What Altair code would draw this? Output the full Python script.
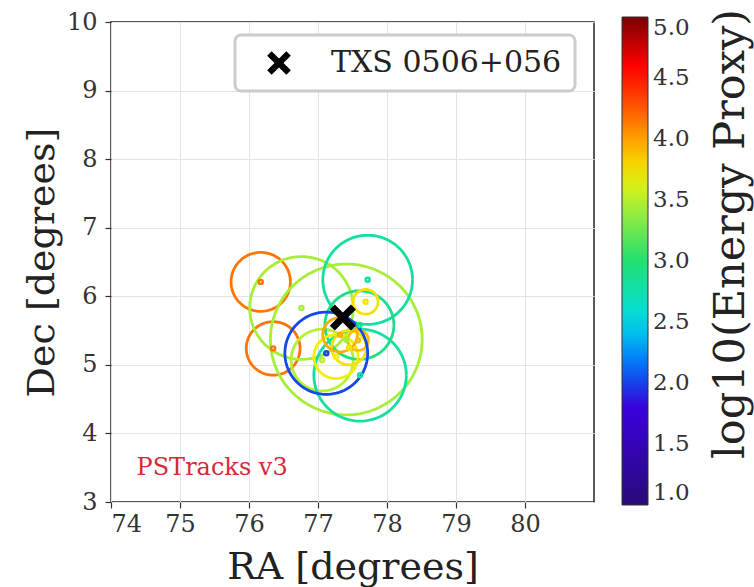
import numpy as np
import pandas as pd
import altair as alt

# --- event data ---
ev_ra  = [76.17, 76.35, 76.76, 77.41, 77.06, 77.72, 77.61, 77.60, 77.26, 77.45, 77.32, 77.58, 77.69, 77.12]
ev_dec = [6.21,  5.24,  5.83,  5.37,  5.07,  6.24,  4.85,  5.58,  5.12,  5.25,  5.44,  5.36,  5.92,  5.17]
ev_err = [0.43,  0.39,  0.75,  1.10,  0.45,  0.65,  0.67,  0.50,  0.32,  0.25,  0.25,  0.15,  0.18,  0.60]
ev_logE = [4.15, 4.15,  3.45,  3.45,  3.50,  2.80,  2.80,  2.90,  3.70,  3.75,  3.95,  3.90,  3.75,  2.02]

src_name = ["TXS 0506+056"]
src_ra = [77.36]
src_dec = [5.69]

x_ticks = [74, 75, 76, 77, 78, 79, 80]
y_ticks = [3, 4, 5, 6, 7, 8, 9, 10]
cbar_ticks = [1.0, 1.5, 2.0, 2.5, 3.0, 3.5, 4.0, 4.5, 5.0]

cmap_dom = [1.0, 1.9, 1.96, 2.1, 2.5, 3.0, 3.5, 3.7, 4.0, 4.3, 4.6, 5.0]
cmap_rng = ["#2a0a78", "#3c00e8", "#2036e0", "#0060ff", "#00dde8", "#22e070",
            "#b6f032", "#f2f000", "#ffa000", "#ff4a00", "#ff0000", "#7a0000"]

FONT = "DejaVu Serif"
XPATH = "M-1,-0.62 L-0.62,-1 L0,-0.38 L0.62,-1 L1,-0.62 L0.38,0 L1,0.62 L0.62,1 L0,0.38 L-0.62,1 L-1,0.62 L-0.38,0 Z"

# circle outlines built from centre + radius
theta = np.linspace(0, 2 * np.pi, 91)
rows = []
for i, (r0, d0, e, c) in enumerate(zip(ev_ra, ev_dec, ev_err, ev_logE)):
    for k, t in enumerate(theta):
        rows.append({"ev": i, "k": k, "ra": r0 + e * np.cos(t), "dec": d0 + e * np.sin(t), "logE": c})
circ = pd.DataFrame(rows)
pts = pd.DataFrame({"ev": range(len(ev_ra)), "ra": ev_ra, "dec": ev_dec, "logE": ev_logE})
src = pd.DataFrame({"name": src_name, "ra": src_ra, "dec": src_dec})

xsc = alt.Scale(domain=[74, 81], nice=False, zero=False)
ysc = alt.Scale(domain=[3, 10], nice=False, zero=False)
csc = alt.Scale(domain=cmap_dom, range=cmap_rng, interpolate="rgb")

xax = alt.Axis(title="RA [degrees]", values=x_ticks, format="d", grid=True)
yax = alt.Axis(title="Dec [degrees]", values=y_ticks, format="d", grid=True)

color_legend = alt.Legend(
    type="gradient",
    orient="none", legendX=511, legendY=-5, direction="vertical", title=None,
    gradientLength=488, gradientThickness=26, values=cbar_ticks, format=".1f",
    labelFontSize=23, labelFont=FONT, labelColor="#333", labelOffset=5,
    labelBaseline="middle",
    gradientStrokeColor="#333", gradientStrokeWidth=1,
)

lines = alt.Chart(circ).mark_line(strokeWidth=2.8, clip=True).encode(
    x=alt.X("ra:Q", scale=xsc, axis=xax),
    y=alt.Y("dec:Q", scale=ysc, axis=yax),
    color=alt.Color("logE:Q", scale=csc, legend=color_legend),
    detail="ev:N",
    order="k:Q",
)

dots = alt.Chart(pts).mark_point(filled=False, size=6, strokeWidth=4, opacity=1, shape="circle").encode(
    x=alt.X("ra:Q", scale=xsc),
    y=alt.Y("dec:Q", scale=ysc),
    color=alt.Color("logE:Q", scale=csc, legend=color_legend),
)

marker = alt.Chart(src).mark_point(filled=True, color="black", size=680, opacity=1).encode(
    x=alt.X("ra:Q", scale=xsc),
    y=alt.Y("dec:Q", scale=ysc),
    shape=alt.Shape("name:N", scale=alt.Scale(domain=src_name, range=[XPATH]),
                    legend=alt.Legend(orient="none", legendX=124, legendY=13, title=None,
                                      symbolSize=560, symbolFillColor="black",
                                      symbolStrokeColor="black", symbolStrokeWidth=0,
                                      labelFontSize=30, labelFont=FONT, labelColor="#222",
                                      labelLimit=500,
                                      padding=13, strokeColor="#cccccc", cornerRadius=6,
                                      fillColor="white", symbolOffset=16, labelOffset=37)),
)

tag = alt.Chart(pd.DataFrame({"t": ["PSTracks v3"], "ra": [74.37], "dec": [3.5]})).mark_text(
    align="left", baseline="middle", fontSize=24, font=FONT, color="#d42a38"
).encode(x=alt.X("ra:Q", scale=xsc), y=alt.Y("dec:Q", scale=ysc), text="t:N")

cbar_title = alt.Chart(pd.DataFrame({"t": ["log10(Energy Proxy)"]})).mark_text(
    angle=270, align="center", baseline="middle", fontSize=43, font=FONT, color="#222"
).encode(x=alt.value(620), y=alt.value(212), text="t:N")

chart = alt.layer(lines, dots, marker, tag, cbar_title).properties(
    width=483, height=480,
    autosize=alt.AutoSizeParams(type="none"),
    padding={"left": 111, "top": 22, "right": 160, "bottom": 85},
).configure_view(
    stroke="#222", strokeWidth=1.5
).configure_axis(
    labelFont=FONT, labelFontSize=24, labelColor="#333",
    titleFont=FONT, titleFontSize=38, titleColor="#222", titleFontWeight="normal",
    gridColor="#e3e3e3", gridWidth=1, domain=False,
    tickColor="#333", tickSize=6, tickWidth=1.2,
).configure_axisX(
    labelPadding=4, titlePadding=12,
).configure_axisY(
    labelPadding=8, titlePadding=5,
).configure_legend(
    strokeWidth=3,
)

chart.save("out.html", embed_options={"renderer": "svg", "actions": False})
